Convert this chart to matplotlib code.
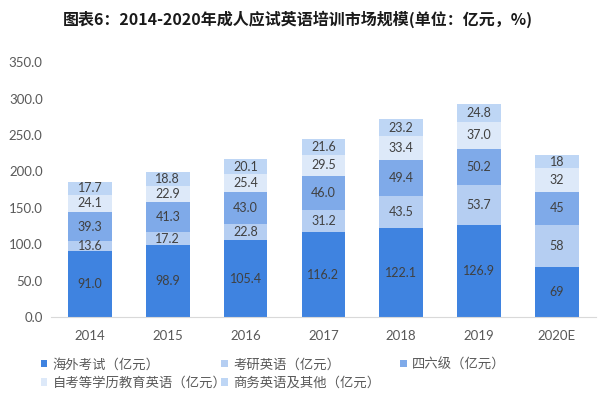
import matplotlib.pyplot as plt
import numpy as np

plt.rcParams['font.family'] = ['Noto Sans CJK SC', 'DejaVu Sans']

years = ['2014', '2015', '2016', '2017', '2018', '2019', '2020E']
overseas = [91.0, 98.9, 105.4, 116.2, 122.1, 126.9, 69]
kaoyan = [13.6, 17.2, 22.8, 31.2, 43.5, 53.7, 58]
cet = [39.3, 41.3, 43.0, 46.0, 49.4, 50.2, 45]
zikao = [24.1, 22.9, 25.4, 29.5, 33.4, 37.0, 32]
business = [17.7, 18.8, 20.1, 21.6, 23.2, 24.8, 18]

labels_2020 = ['69', '58', '45', '32', '18']

names = ['海外考试（亿元）', '考研英语（亿元）', '四六级（亿元）',
         '自考等学历教育英语（亿元）', '商务英语及其他（亿元）']
colors = ['#3F83E0', '#B5CEF2', '#7FAAE9', '#DDE9F9', '#BED6F5']
series = [overseas, kaoyan, cet, zikao, business]

fig = plt.figure(figsize=(6, 3.97), dpi=100)
ax = fig.add_axes([0.085, 0.2015, 0.908, 0.642])

x = np.arange(len(years))
bottom = np.zeros(len(years))
handles = []
for k, (vals, col, name) in enumerate(zip(series, colors, names)):
    vals = np.array(vals, dtype=float)
    b = ax.bar(x, vals, 0.56, bottom=bottom, color=col, label=name)
    handles.append(b)
    for i, v in enumerate(vals):
        txt = labels_2020[k] if years[i] == '2020E' else f'{v:.1f}'
        ax.text(x[i], bottom[i] + v / 2, txt, ha='center', va='center',
                fontsize=9, color='#404040', family='Lato')
    bottom += vals

ax.set_xlim(-0.5, len(years) - 0.5)
ax.set_ylim(0, 350)
ax.set_yticks(np.arange(0, 351, 50))
ax.set_yticklabels([f'{t:.1f}' for t in np.arange(0, 351, 50)])
ax.set_xticks(x)
ax.set_xticklabels(years)
for s in ['top', 'right', 'left']:
    ax.spines[s].set_visible(False)
ax.spines['bottom'].set_color('#D9D9D9')
ax.tick_params(axis='y', length=0, colors='#595959', pad=6)
ax.tick_params(axis='x', length=0, colors='#595959', pad=9)
for lab in ax.get_xticklabels() + ax.get_yticklabels():
    lab.set_family('Lato')
    lab.set_fontsize(9.5)

fig.text(0.105, 0.952, '图表6：2014-2020年成人应试英语培训市场规模(单位：亿元，%)',
         fontsize=11.5, fontweight='bold', color='#1a1a1a', va='center', ha='left')

# legend: three evenly spaced columns, read row by row
columns = [[0, 3], [1, 4], [2]]
col_x = [0.068, 0.369, 0.667]
for idx, cx in zip(columns, col_x):
    fig.legend(handles=[handles[i] for i in idx], loc='upper left',
               bbox_to_anchor=(cx, 0.1), ncol=1, frameon=False,
               fontsize=9.6, handlelength=0.5, handleheight=0.5,
               handletextpad=0.4, labelspacing=0.35,
               labelcolor='#595959', borderaxespad=0, borderpad=0)

fig.savefig('out.png', dpi=100)
